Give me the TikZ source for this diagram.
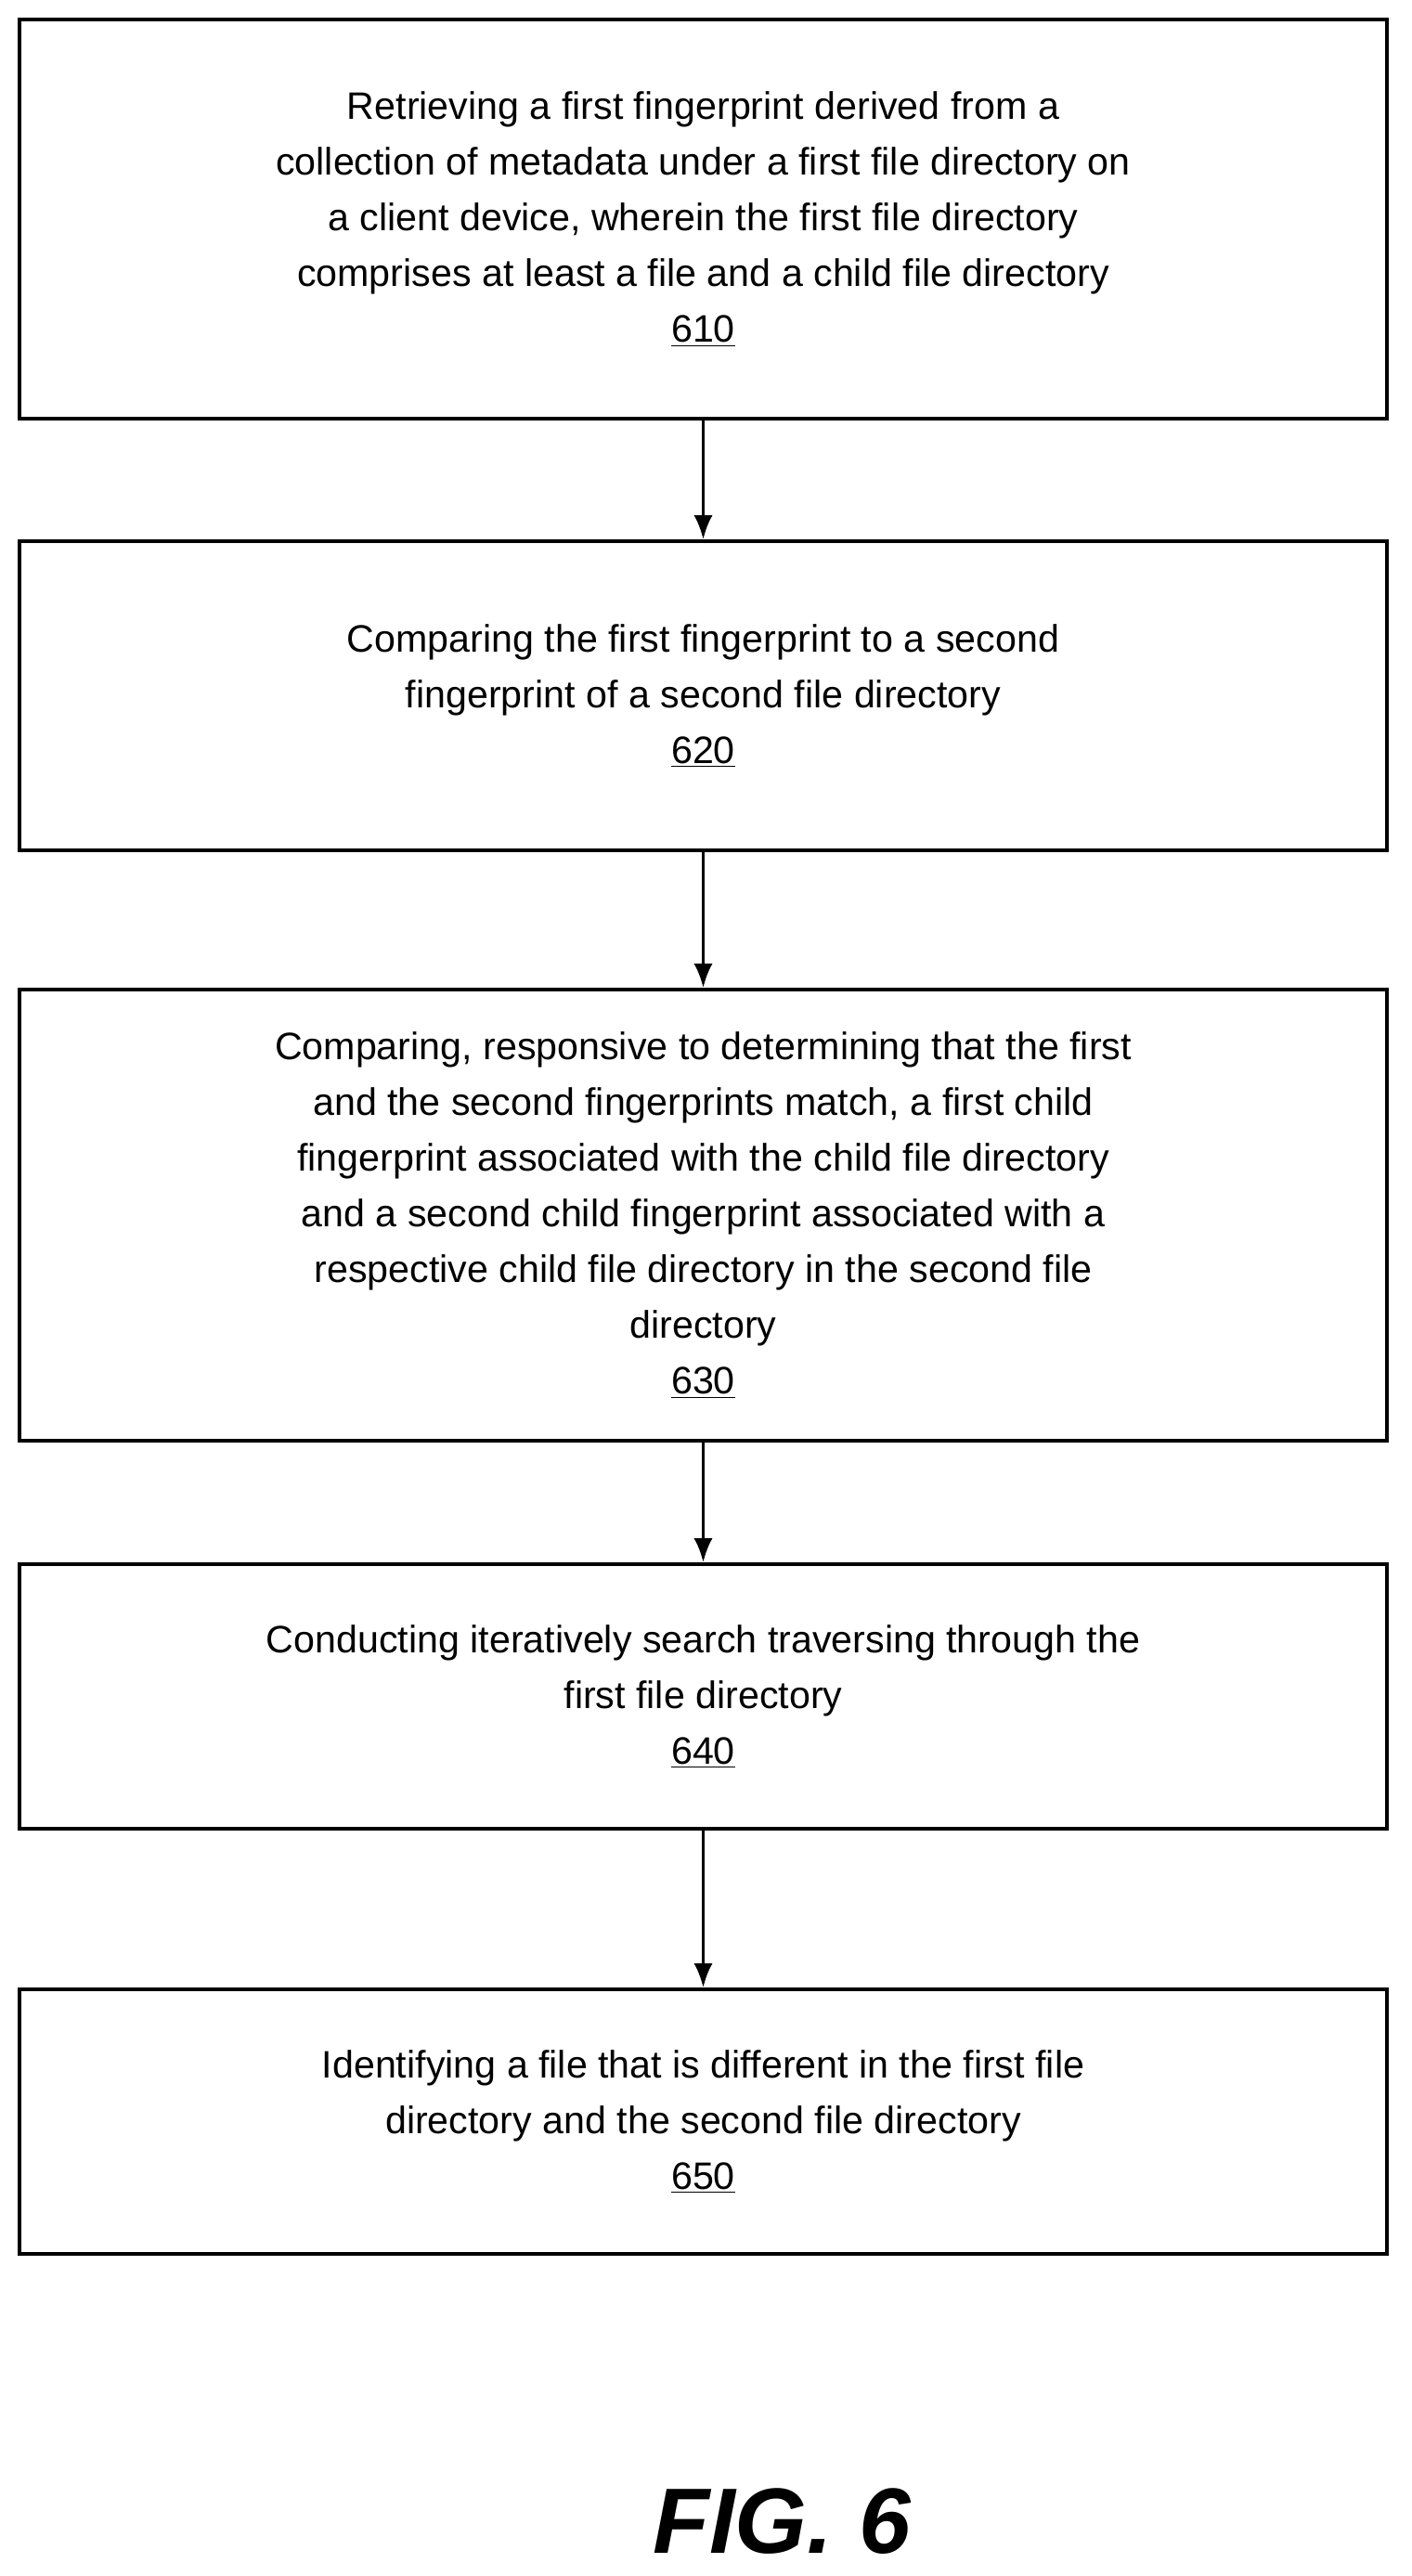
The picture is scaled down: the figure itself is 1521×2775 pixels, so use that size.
\documentclass[tikz,border=0pt]{standalone}
\usepackage{fontspec}
\usetikzlibrary{arrows.meta}
\setmainfont{Liberation Sans}
\begin{document}
\begin{tikzpicture}[x=0.5pt,y=-0.5pt,
 box/.style={draw,line width=1.8pt,align=center,font=\fontsize{20.6}{30}\selectfont,inner sep=0pt},
 arr/.style={-{Latex[length=13pt,width=10pt]},line width=1.8pt}]
\useasboundingbox (0,0) rectangle (1521,2775);
\newcommand{\bx}[5]{\node[box,minimum width=736.5pt,minimum height={(#3-#2)*0.5pt}] (#1) at (757.5,{(#2+#3)/2}) {#4\\\underline{#5}};}
\bx{b1}{21}{451}{Retrieving a first fingerprint derived from a\\collection of metadata under a first file directory on\\a client device, wherein the first file directory\\comprises at least a file and a child file directory}{610}
\bx{b2}{583}{916}{Comparing the first fingerprint to a second\\fingerprint of a second file directory}{620}
\bx{b3}{1066}{1552}{Comparing, responsive to determining that the first\\and the second fingerprints match, a first child\\fingerprint associated with the child file directory\\and a second child fingerprint associated with a\\respective child file directory in the second file\\directory}{630}
\bx{b4}{1685}{1970}{Conducting iteratively search traversing through the\\first file directory}{640}
\bx{b5}{2143}{2428}{Identifying a file that is different in the first file\\directory and the second file directory}{650}
\draw[arr] (b1) -- (b2);
\draw[arr] (b2) -- (b3);
\draw[arr] (b3) -- (b4);
\draw[arr] (b4) -- (b5);
\node[font=\fontsize{50}{56}\selectfont\bfseries\itshape] (fig) at (842,2716) {FIG. 6};
\end{tikzpicture}
\end{document}
